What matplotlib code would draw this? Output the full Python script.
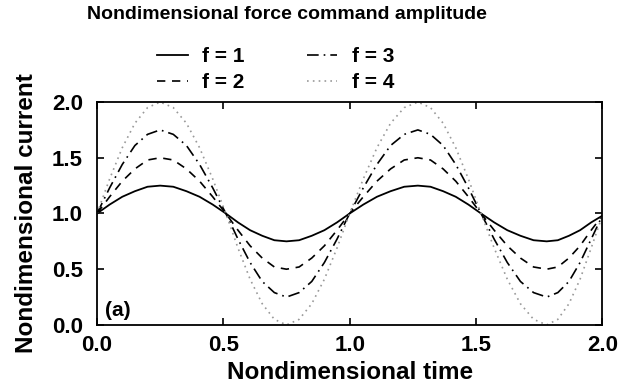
import matplotlib.pyplot as plt

plt.rcParams['font.family'] = ['Liberation Sans', 'DejaVu Sans']
plt.rcParams['font.weight'] = 'bold'

# time samples (the scanned cycles are slightly uneven)
t = [0.00, 0.05, 0.10, 0.15, 0.20, 0.25,
     0.302, 0.354, 0.406, 0.458, 0.51,
     0.558, 0.606, 0.654, 0.702, 0.75,
     0.80, 0.85, 0.90, 0.95, 1.00,
     1.054, 1.108, 1.162, 1.216, 1.27,
     1.32, 1.37, 1.42, 1.47, 1.52,
     1.572, 1.624, 1.676, 1.728, 1.78,
     1.824, 1.868, 1.912, 1.956, 2.00]

f1 = [1.00, 1.08, 1.15, 1.20, 1.24, 1.25, 1.24, 1.20, 1.15, 1.08, 1.00,
      0.92, 0.85, 0.80, 0.76, 0.75, 0.76, 0.80, 0.85, 0.92, 1.00,
      1.08, 1.15, 1.20, 1.24, 1.25, 1.24, 1.20, 1.15, 1.08, 1.00,
      0.92, 0.85, 0.80, 0.76, 0.75, 0.76, 0.80, 0.85, 0.92, 0.98]
f2 = [1.00, 1.15, 1.29, 1.40, 1.48, 1.50, 1.48, 1.40, 1.29, 1.15, 1.00,
      0.85, 0.71, 0.60, 0.52, 0.50, 0.52, 0.60, 0.71, 0.85, 1.00,
      1.15, 1.29, 1.40, 1.48, 1.50, 1.48, 1.40, 1.29, 1.15, 1.00,
      0.85, 0.71, 0.60, 0.52, 0.50, 0.52, 0.60, 0.71, 0.85, 0.98]
f3 = [1.00, 1.23, 1.44, 1.61, 1.71, 1.75, 1.71, 1.61, 1.44, 1.23, 1.00,
      0.77, 0.56, 0.39, 0.29, 0.25, 0.29, 0.39, 0.56, 0.77, 1.00,
      1.23, 1.44, 1.61, 1.71, 1.75, 1.71, 1.61, 1.44, 1.23, 1.00,
      0.77, 0.56, 0.39, 0.29, 0.25, 0.29, 0.39, 0.56, 0.77, 0.98]
f4 = [1.00, 1.31, 1.59, 1.81, 1.95, 2.00, 1.95, 1.81, 1.59, 1.31, 1.00,
      0.69, 0.41, 0.19, 0.05, 0.00, 0.05, 0.19, 0.41, 0.69, 1.00,
      1.31, 1.59, 1.81, 1.95, 2.00, 1.95, 1.81, 1.59, 1.31, 1.00,
      0.69, 0.41, 0.19, 0.05, 0.00, 0.05, 0.19, 0.41, 0.69, 0.98]

labels = ['f = 1', 'f = 2', 'f = 3', 'f = 4']
xticks = [0.0, 0.5, 1.0, 1.5, 2.0]
yticks = [0.0, 0.5, 1.0, 1.5, 2.0]

fig = plt.figure(figsize=(6.34, 3.91), dpi=100)
ax = fig.add_axes([0.153, 0.169, 0.797, 0.570])

ax.plot(t, f1, color='black', lw=1.3, label=labels[0])
ax.plot(t, f2, color='black', lw=1.2, ls=(0, (5, 4)), label=labels[1])
ax.plot(t, f3, color='black', lw=1.2, ls=(0, (7, 3, 1, 3)), label=labels[2])
ax.plot(t, f4, color='#999999', lw=1.2, ls=(0, (1, 2.5)), label=labels[3])

ax.set_xlim(0, 2)
ax.set_ylim(0, 2)
ax.set_xticks(xticks)
ax.set_yticks(yticks)
ax.set_xticklabels([f'{v:.1f}' for v in xticks])
ax.set_yticklabels([f'{v:.1f}' for v in yticks])
ax.tick_params(direction='in', top=True, right=True, length=5, width=1.2,
               labelsize=16)
ax.tick_params(axis='x', pad=7)
ax.tick_params(axis='y', pad=10)
for s in ax.spines.values():
    s.set_linewidth(1.3)

ax.set_xlabel('Nondimensional time', fontsize=17.5, fontweight='bold', labelpad=4)
ax.set_ylabel('Nondimensional current', fontsize=17.5, fontweight='bold', labelpad=10)
ax.text(0.03, 0.13, '(a)', fontsize=15, fontweight='bold', va='center')

fig.text(0.452, 0.962, 'Nondimensional force command amplitude',
         ha='center', va='center', fontsize=14, fontweight='bold')
fig.legend(loc='center', bbox_to_anchor=(0.435, 0.822), ncol=2, frameon=False,
           fontsize=15, handlelength=1.45, columnspacing=3.0, labelspacing=0.35,
           handletextpad=0.7)

fig.savefig('out.png', dpi=100)
